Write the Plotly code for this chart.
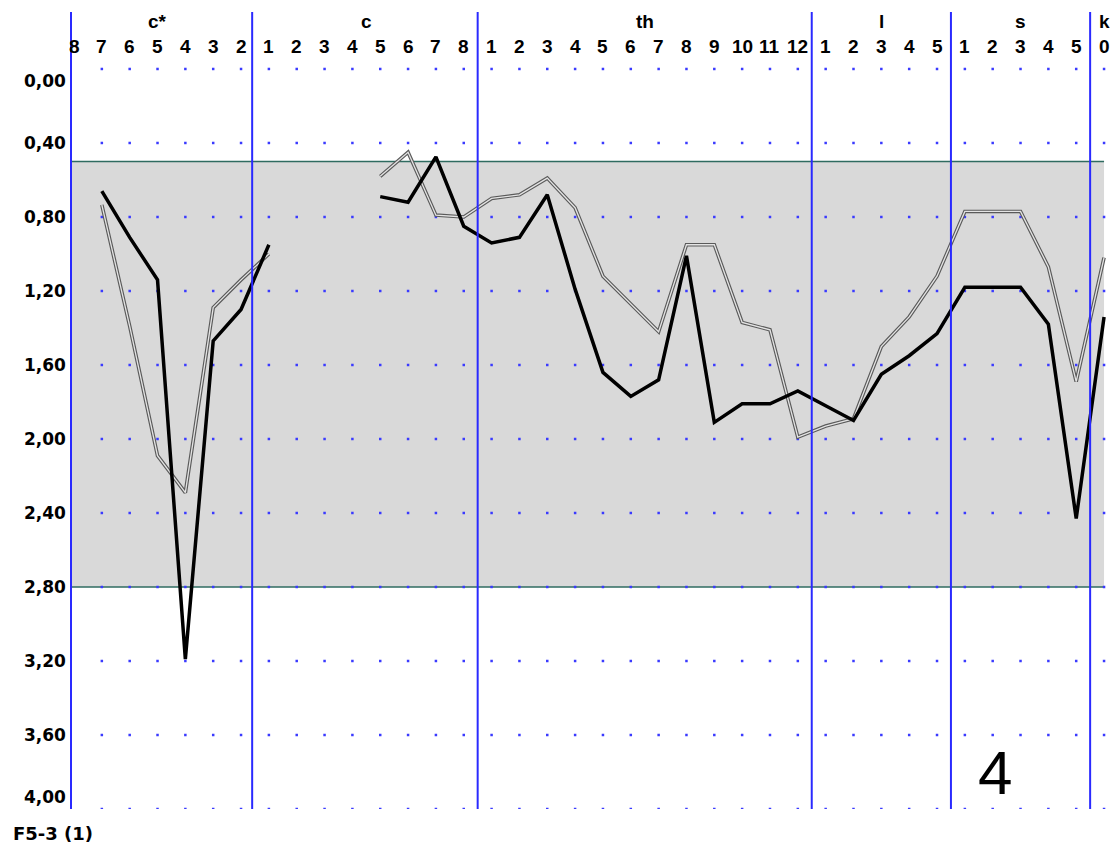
import plotly.graph_objects as go

# ---- data ----
groups = ["c*", "c", "th", "l", "s", "k"]
group_ticks = [
    ["8", "7", "6", "5", "4", "3", "2"],
    ["1", "2", "3", "4", "5", "6", "7", "8"],
    ["1", "2", "3", "4", "5", "6", "7", "8", "9", "10", "11", "12"],
    ["1", "2", "3", "4", "5"],
    ["1", "2", "3", "4", "5"],
    ["0"],
]
black_cx = [None, 0.66, 0.91, 1.14, 3.19, 1.47, 1.30]
black_c = [0.95, None, None, None, 0.69, 0.72, 0.475, 0.85]
black_th = [0.94, 0.91, 0.68, 1.19, 1.64, 1.77, 1.68, 1.01, 1.91, 1.81, 1.81, 1.74]
black_l = [1.82, 1.90, 1.65, 1.55, 1.43]
black_s = [1.18, 1.18, 1.18, 1.38, 2.43]
black_k = [1.34]

gray_cx = [None, 0.735, 1.39, 2.09, 2.29, 1.29, 1.14]
gray_c = [1.0, None, None, None, 0.58, 0.45, 0.79, 0.80]
gray_th = [0.70, 0.68, 0.59, 0.75, 1.12, 1.27, 1.42, 0.95, 0.95, 1.37, 1.41, 1.99]
gray_l = [1.93, 1.89, 1.50, 1.34, 1.12]
gray_s = [0.77, 0.77, 0.77, 1.07, 1.69]
gray_k = [1.02]

y_ticks = [0.0, 0.4, 0.8, 1.2, 1.6, 2.0, 2.4, 2.8, 3.2, 3.6, 4.0]
y_tick_text = ["0,00", "0,40", "0,80", "1,20", "1,60", "2,00", "2,40", "2,80", "3,20", "3,60", "4,00"]
band_low, band_high = 0.5, 2.8
chart_id = "F5-3 (1)"
panel_no = "4"

# ---- build ----
black = black_cx + black_c + black_th + black_l + black_s + black_k
gray = gray_cx + gray_c + gray_th + gray_l + gray_s + gray_k
tick_labels = [t for g in group_ticks for t in g]
n = len(tick_labels)
xs = list(range(n))

bounds = []
centres = []
start = 0
for g in group_ticks:
    end = start + len(g) - 1
    centres.append((start + end) / 2)
    if end < n - 1:
        bounds.append(end + 0.5)
    start = end + 1
bounds[0] = bounds[0] - 0.1

fig = go.Figure()

# dotted grid
gx, gy = [], []
for yv in y_ticks:
    for xv in xs[1:]:
        gx.append(xv)
        gy.append(yv)
fig.add_trace(go.Scatter(x=gx, y=gy, mode="markers",
                         marker=dict(size=2.5, color="#3a3aff", symbol="square"),
                         hoverinfo="skip"))

# gray double line
fig.add_trace(go.Scatter(x=xs, y=gray, mode="lines", connectgaps=False,
                         line=dict(color="#5a5a5a", width=3.6), hoverinfo="skip"))
fig.add_trace(go.Scatter(x=xs, y=gray, mode="lines", connectgaps=False,
                         line=dict(color="#e4e4e4", width=1.3), hoverinfo="skip"))
# black line
fig.add_trace(go.Scatter(x=xs, y=black, mode="lines", connectgaps=False,
                         line=dict(color="#000000", width=3.5), hoverinfo="skip"))

shapes = []
shapes.append(dict(type="rect", xref="x", yref="y", x0=-0.072, x1=n - 1,
                   y0=band_low, y1=band_high, fillcolor="#d9d9d9",
                   line=dict(width=0), layer="below"))
for yv in (band_low, band_high):
    shapes.append(dict(type="line", xref="x", yref="y", x0=-0.072, x1=n - 1,
                       y0=yv, y1=yv, line=dict(color="#2f6b60", width=1.6),
                       layer="below"))
for b in bounds:
    shapes.append(dict(type="line", xref="x", yref="paper", x0=b, x1=b,
                       y0=0.0, y1=1.0, line=dict(color="#2a2aff", width=2)))

ann = []
for i, t in enumerate(tick_labels):
    ann.append(dict(x=i, y=-0.119, xref="x", yref="y", text="<b>" + t + "</b>",
                    showarrow=False,
                    font=dict(family="Liberation Sans", size=19, color="black"),
                    xanchor="center", yanchor="middle"))
for c, g in zip(centres, groups):
    ann.append(dict(x=c, y=-0.254, xref="x", yref="y", text="<b>" + g + "</b>",
                    showarrow=False,
                    font=dict(family="Liberation Sans", size=19, color="black"),
                    xanchor="center", yanchor="middle"))
for i, (yv, t) in enumerate(zip(y_ticks, y_tick_text)):
    ya = "middle"
    if i == 0:
        ya = "top"
    elif i == len(y_ticks) - 1:
        ya = "bottom"
    ann.append(dict(x=0, y=yv, xref="paper", yref="y", text="<b>" + t + "</b>",
                    showarrow=False, xanchor="right", yanchor=ya, xshift=-4,
                    font=dict(family="DejaVu Sans", size=17, color="black")))

ann.append(dict(x=-0.059, y=-0.031, xref="paper", yref="paper",
                text="<b>" + chart_id + "</b>", showarrow=False,
                xanchor="left", yanchor="middle",
                font=dict(family="DejaVu Sans", size=18, color="black")))
ann.append(dict(x=33.1, y=3.805, xref="x", yref="y", text=panel_no,
                showarrow=False, xanchor="center", yanchor="middle",
                font=dict(family="Liberation Sans", size=62, color="black")))

fig.update_layout(
    width=1110, height=840,
    margin=dict(l=64, r=12, t=4, b=39),
    paper_bgcolor="white", plot_bgcolor="white",
    showlegend=False, hovermode=False,
    shapes=shapes, annotations=ann,
    xaxis=dict(range=[-0.072, 37.07], showgrid=False, zeroline=False,
               showticklabels=False, ticks="", showline=False),
    yaxis=dict(range=[4.0, -0.308], showgrid=False, zeroline=False,
               showticklabels=False, ticks="", showline=True,
               linecolor="#2a2aff", linewidth=2),
)

fig.write_html("out.html")
